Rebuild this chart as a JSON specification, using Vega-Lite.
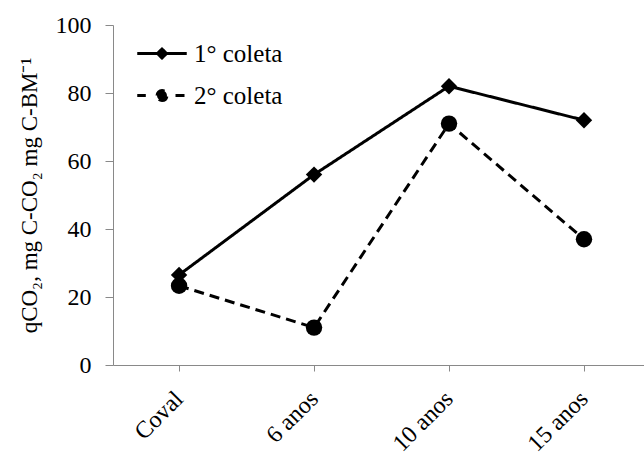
{
  "$schema": "https://vega.github.io/schema/vega-lite/v6.json",
  "width": 531,
  "height": 340,
  "autosize": "none",
  "padding": {"left": 113, "top": 25, "right": 0, "bottom": 90},
  "background": "white",
  "config": {
    "view": {"stroke": null},
    "font": "Liberation Serif",
    "legend": {"labelFont": "Liberation Serif", "labelFontSize": 25, "labelColor": "black"},
    "axis": {
      "labelFont": "Liberation Serif",
      "titleFont": "Liberation Serif",
      "labelFontSize": 24,
      "titleFontSize": 23,
      "labelColor": "black",
      "titleColor": "black",
      "titleFontWeight": "normal",
      "domainColor": "#898989",
      "tickColor": "#898989",
      "grid": false
    }
  },
  "data": {
    "values": [
      {"local": "Coval", "coleta": "1° coleta", "valor": 26.5},
      {"local": "6 anos", "coleta": "1° coleta", "valor": 56},
      {"local": "10 anos", "coleta": "1° coleta", "valor": 82},
      {"local": "15 anos", "coleta": "1° coleta", "valor": 72},
      {"local": "Coval", "coleta": "2° coleta", "valor": 23.3},
      {"local": "6 anos", "coleta": "2° coleta", "valor": 11},
      {"local": "10 anos", "coleta": "2° coleta", "valor": 71},
      {"local": "15 anos", "coleta": "2° coleta", "valor": 37}
    ]
  },
  "encoding": {
    "x": {
      "field": "local",
      "type": "nominal",
      "sort": ["Coval", "6 anos", "10 anos", "15 anos"],
      "scale": {"type": "point", "padding": 0.467, "align": 0.524},
      "axis": {"title": null, "labelAngle": -45, "labelAlign": "right", "labelBaseline": "middle", "tickSize": 6, "labelPadding": 24}
    },
    "y": {
      "field": "valor",
      "type": "quantitative",
      "scale": {"domain": [0, 100]},
      "axis": {
        "values": [0, 20, 40, 60, 80, 100],
        "tickSize": 8,
        "labelPadding": 14,
        "title": "qCO₂,  mg C-CO₂ mg C-BM⁻¹",
        "titlePadding": 14
      }
    }
  },
  "layer": [
    {
      "mark": {"type": "line", "strokeWidth": 3},
      "encoding": {
        "color": {
          "field": "coleta",
          "type": "nominal",
          "scale": {"domain": ["1° coleta", "2° coleta"], "range": ["black", "black"]},
          "legend": {
            "title": null,
            "orient": "none",
            "legendX": 25,
            "legendY": 4.5,
            "padding": 0,
            "rowPadding": 5,
            "symbolSize": 2025,
            "symbolStrokeWidth": 3,
            "symbolFillColor": "black",
            "symbolStrokeColor": "black",
            "labelFont": "Liberation Serif",
            "labelFontSize": 25,
            "labelColor": "black",
            "labelOffset": 8,
            "encode": {
              "symbols": {
                "update": {
                  "shape": {"signal": "datum.value === '1° coleta' ? 'M-1.1,0H1.1M-0.2,0L0,-0.2L0.2,0L0,0.2Z' : 'M-1.1,0H-0.72M0.6,0H1.0M-0.22,0A0.22,0.22,0,1,1,0.22,0A0.22,0.22,0,1,1,-0.22,0Z'"},
                  "fill": {"value": "black"},
                  "stroke": {"value": "black"},
                  "strokeWidth": {"value": 3},
                  "strokeDash": {"value": [1, 0]},
                  "size": {"value": 2025}
                }
              }
            }
          }
        },
        "strokeDash": {
          "field": "coleta",
          "type": "nominal",
          "scale": {"domain": ["1° coleta", "2° coleta"], "range": [[1, 0], [10, 6]]},
          "legend": null
        }
      }
    },
    {
      "transform": [{"filter": "datum.coleta === '1° coleta'"}],
      "mark": {"type": "point", "shape": "diamond", "filled": true, "color": "black", "opacity": 1, "size": 270}
    },
    {
      "transform": [{"filter": "datum.coleta === '2° coleta'"}],
      "mark": {"type": "point", "shape": "circle", "filled": true, "color": "black", "opacity": 1, "size": 270}
    }
  ]
}
